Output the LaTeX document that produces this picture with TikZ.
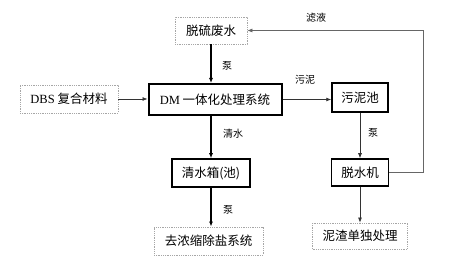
\documentclass[tikz,border=0pt]{standalone}
\usepackage{fontspec}
\setmainfont{Liberation Serif}
\newfontfamily\cjk{Noto Sans CJK SC}
\usetikzlibrary{arrows.meta,positioning}

\begin{document}
\begin{tikzpicture}[
  x=1pt, y=1pt,
  font=\cjk\fontsize{12.5}{14}\selectfont,
  iobox/.style={rectangle, draw=black!35, densely dotted, line width=0.8pt,
                inner sep=0pt, align=center},
  procbox/.style={rectangle, draw=black, line width=1.5pt, inner sep=0pt,
                  align=center},
  lbl/.style={font=\cjk\fontsize{10}{12}\selectfont},
  flow/.style={-{Latex[length=5pt,width=4pt]}, line width=0.7pt, black!80},
  main/.style={flow, line width=1.5pt, black}
]
  \useasboundingbox (0,0) rectangle (475,262);

  \node[iobox, minimum width=72pt, minimum height=27pt]   (feed)    at (211,231.5) {脱硫废水};
  \node[iobox, minimum width=98pt, minimum height=28pt]   (dbs)     at (69,163)    {{\rmfamily DBS} 复合材料};
  \node[procbox, line width=2pt, minimum width=133pt, minimum height=31pt]
                                                          (dm)      at (215,162.5) {{\rmfamily DM} 一体化处理系统};
  \node[procbox, minimum width=56pt, minimum height=29pt] (pool)    at (360,164.5) {污泥池};
  \node[procbox, minimum width=57pt, minimum height=27pt] (dewater) at (360,89.5)  {脱水机};
  \node[iobox, minimum width=95pt, minimum height=26pt]   (residue) at (360,26)    {泥渣单独处理};
  \node[procbox, minimum width=78pt, minimum height=28pt] (clear)   at (211,89)    {清水箱(池)};
  \node[iobox, minimum width=109pt, minimum height=28pt]  (desalt)  at (208.5,21)  {去浓缩除盐系统};

  \coordinate (ret) at (423,231.5);

  % left column
  \draw[main] (feed.south) -- (feed.south |- dm.north);
  \draw[main] (clear.north |- dm.south) -- (clear.north);
  \draw[main] (clear.south) -- (clear.south |- desalt.north);
  \draw[flow] (dbs.east) -- (dm.west |- dbs.east);

  % sludge line
  \draw[flow] (dm.east) -- (pool.west |- dm.east);
  \draw[flow] (pool.south) -- (dewater.north);
  \draw[flow] (dewater.south) -- (residue.north);
  \draw[flow, black!60] (dewater.east) -| (ret) -- (feed.east);

  \node[lbl] (pump1)  at (227,196) {泵};
  \node[lbl] (water)  at (233,128) {清水};
  \node[lbl] (pump2)  at (228,52)  {泵};
  \node[lbl] (sludge) at (305,182) {污泥};
  \node[lbl] (filt)   at (316,244) {滤液};
  \node[lbl] (pump3)  at (373,129) {泵};
\end{tikzpicture}
\end{document}
